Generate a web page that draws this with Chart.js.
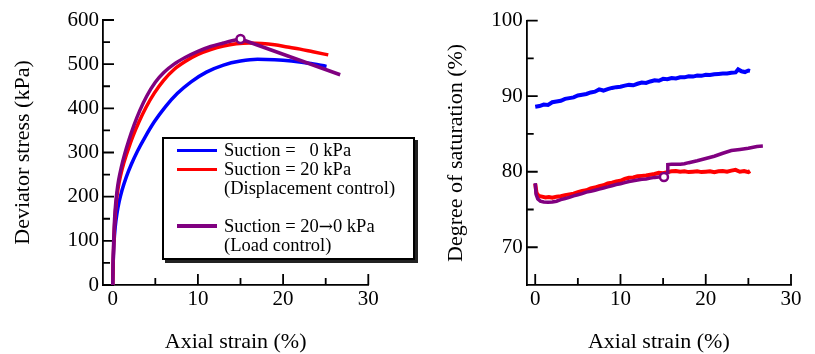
<!DOCTYPE html>
<html>
<head>
<meta charset="utf-8">
<title>Deviator stress and degree of saturation vs axial strain</title>
<script src="https://cdn.jsdelivr.net/npm/chart.js@4.4.0/dist/chart.umd.min.js"></script>
<style>
  html, body { margin: 0; padding: 0; background: #fff; }
  body { width: 815px; height: 354px; position: relative; overflow: hidden;
         font-family: 'Liberation Serif', 'Times New Roman', serif; }
  #stress-chart { position: absolute; left: 0; top: 0; }
  #sat-chart { position: absolute; left: 430px; top: 0; }
  .legend-box { position: absolute; left: 162px; top: 137px; width: 253px; height: 123px;
                box-sizing: border-box; border: 2px solid #000; background: #fff;
                box-shadow: 3px 3px 0 #222; }
  .legend-row { position: absolute; left: 60px; white-space: pre; font-size: 18.5px;
                line-height: 19px; color: #000; }
  .legend-row .arrow { font-family: 'DejaVu Serif', serif; font-size: 17px; }
  .legend-swatch { position: absolute; left: 12.7px; width: 40px; height: 3.5px; }
</style>
</head>
<body>
<canvas id="stress-chart" width="400" height="354"></canvas>
<canvas id="sat-chart" width="385" height="354"></canvas>
<div class="legend-box" id="legend"></div>

<script>
/* =============================================
   Triaxial test — stress / saturation vs strain
   ============================================= */

const BLUE = '#0000ff', RED = '#ff0000', PURPLE = '#800080';

/* ── Tick values ── */
const strainTicks = [0, 5, 10, 15, 20, 25, 30];
const stressTicks = [0, 50, 100, 150, 200, 250, 300, 350, 400, 450, 500, 550, 600];
const saturationTicks = [70, 75, 80, 85, 90, 95, 100];

/* ── Left: deviator stress (kPa) vs axial strain (%) ── */
const stressSuction0 = [[0,0],[0.05,45],[0.15,95],[0.3,132],[0.5,162],[0.75,188],[1.1,215],[1.6,245],
  [2.2,274],[2.9,303],[3.8,335],[4.9,370],[6.2,404],[7.6,434],[9.2,460],[11,482],[13,498],[15,507],
  [17,511],[19,510],[21,507],[23,502],[25.1,495]];
const stressSuction20 = [[0,0],[0.06,55],[0.14,105],[0.26,150],[0.42,188],[0.62,218],[0.9,246],[1.3,276],
  [1.8,306],[2.4,338],[3.1,370],[3.9,402],[4.9,435],[6,464],[7.2,488],[8.5,506],[10,522],[11.5,533],
  [13,541],[14.5,546],[16,548],[17.5,547],[19,544],[20.5,539],[22,534],[23.5,528],[25.3,521]];
const stressLoadCtrl = [[0,0],[0.05,55],[0.12,105],[0.22,150],[0.35,185],[0.5,212],[0.7,238],[1,266],
  [1.4,296],[1.9,328],[2.5,362],[3.2,396],[4,428],[5,459],[6,481],[7.2,500],[8.5,515],[10,529],
  [11.5,540],[13,548],[14,553],[15,557]];
const stressLoadCtrlAfter = [[15,557],[26.7,476]];
const stressSwitchPoint = [[15,557]];

/* ── Right: degree of saturation (%) vs axial strain (%) ── */
const satSuction0 = [[0,88.6],[0.5,88.7],[1,88.9],[1.5,88.85],[2,89.2],[2.5,89.3],[3,89.4],[3.5,89.65],
  [4,89.75],[4.5,89.85],[5,90.1],[5.5,90.2],[6,90.3],[6.5,90.5],[7,90.6],[7.5,90.9],[8,90.75],[8.5,90.95],
  [9,91.1],[9.5,91.2],[10,91.25],[10.5,91.4],[11,91.5],[11.5,91.45],[12,91.65],[12.5,91.8],[13,91.75],
  [13.5,91.95],[14,92.1],[14.5,92.05],[15,92.3],[15.5,92.25],[16,92.4],[16.5,92.35],[17,92.5],[17.5,92.5],
  [18,92.65],[18.5,92.6],[19,92.75],[19.5,92.7],[20,92.85],[20.5,92.8],[21,92.9],[21.5,92.95],[22,93],
  [22.5,93],[23,93.1],[23.5,93.15],[23.8,93.55],[24.2,93.3],[24.6,93.2],[25,93.4],[25.2,93.35]];
const satSuction20 = [[0,78.4],[0.15,77.2],[0.4,76.8],[0.8,76.7],[1.2,76.6],[1.6,76.65],[2,76.55],[2.5,76.7],
  [3,76.75],[3.5,76.9],[4,77],[4.5,77.1],[5,77.3],[5.5,77.45],[6,77.55],[6.5,77.8],[7,77.9],[7.5,78.1],
  [8,78.2],[8.5,78.45],[9,78.55],[9.5,78.7],[10,78.8],[10.5,79.05],[11,79.2],[11.5,79.25],[12,79.4],
  [12.5,79.45],[13,79.5],[13.5,79.6],[14,79.7],[14.5,79.85],[15,79.8],[15.5,79.95],[16,80.05],[16.5,80.1],
  [17,80],[17.5,80.05],[18,79.95],[18.5,80],[19,80.05],[19.5,79.95],[20,80],[20.5,80.05],[21,79.95],
  [21.5,80.05],[22,80.1],[22.5,80],[23,80.15],[23.5,80.25],[24,80],[24.5,80.1],[25,79.95],[25.2,80.1]];
const satLoadCtrl = [[0,78.5],[0.1,77],[0.3,76.4],[0.6,76.1],[1,76],[1.5,75.95],[2,76],[2.5,76.1],[3,76.3],
  [3.5,76.45],[4,76.6],[4.5,76.8],[5,76.95],[5.5,77.1],[6,77.3],[6.5,77.4],[7,77.55],[7.5,77.7],[8,77.85],
  [8.5,78],[9,78.15],[9.5,78.3],[10,78.4],[10.5,78.55],[11,78.7],[11.5,78.8],[12,78.9],[12.5,79],[13,79.05],
  [13.5,79.15],[14,79.25],[14.5,79.3],[15.1,79.3],[15.5,79.9],[15.55,80.95],[16,81],[17,81],[17.5,81.05],
  [18,81.2],[19,81.45],[20,81.75],[21,82.05],[22,82.45],[23,82.8],[24,82.95],[25,83.1],[26,83.35],[26.7,83.4]];
const satSwitchPoint = [[15.1,79.3]];

/* ── Legend ── */
const legendItems = [
  { color: BLUE,   text: 'Suction =   0 kPa',  y: 11.7 },
  { color: RED,    text: 'Suction = 20 kPa',   y: 30.3 },
  { color: null,   text: '(Displacement control)', y: 49 },
  { color: PURPLE, text: 'Suction = 20<span class="arrow">\u2192</span>0 kPa', y: 87 },
  { color: null,   text: '(Load control)',     y: 106 },
];

Chart.defaults.font.family = "'Liberation Serif', 'Times New Roman', serif";
Chart.defaults.color = '#000';

const toPoints = arr => arr.map(([x, y]) => ({ x, y }));

/* inward tick marks, drawn under the data */
const innerTicks = {
  id: 'innerTicks',
  beforeDatasetsDraw(chart, args, opts) {
    const { ctx } = chart;
    const xs = chart.scales.x, ys = chart.scales.y;
    ctx.save();
    ctx.strokeStyle = '#000';
    ctx.lineWidth = 1.8;
    ctx.beginPath();
    xs.ticks.forEach(t => {
      const px = xs.getPixelForValue(t.value);
      const len = t.value % opts.xMajor === 0 ? 11 : 7;
      ctx.moveTo(px, xs.top);
      ctx.lineTo(px, xs.top - len);
    });
    ys.ticks.forEach(t => {
      const py = ys.getPixelForValue(t.value);
      const len = t.value % opts.yMajor === 0 ? 11 : 7;
      ctx.moveTo(ys.right, py);
      ctx.lineTo(ys.right + len, py);
    });
    ctx.stroke();
    ctx.restore();
  }
};

function lineSet(data, color, width, order, smooth) {
  return {
    data: toPoints(data),
    borderColor: color,
    borderWidth: width,
    pointRadius: 0,
    fill: false,
    order,
    tension: 0,
    cubicInterpolationMode: smooth ? 'monotone' : 'default',
  };
}

function markerSet(data) {
  return {
    data: toPoints(data),
    showLine: false,
    pointRadius: 4,
    pointBorderWidth: 2.5,
    pointBorderColor: PURPLE,
    pointBackgroundColor: '#fff',
    order: 0,
  };
}

function xAxis(min) {
  return {
    type: 'linear', position: 'bottom', min, max: 30,
    afterBuildTicks: s => { s.ticks = strainTicks.map(v => ({ value: v })); },
    afterFit: s => { s.height = 69; },
    grid: { display: false, drawTicks: false },
    border: { display: true, color: '#000', width: 1.8 },
    ticks: { autoSkip: false, maxRotation: 0, padding: 2, font: { size: 21 },
             callback: v => (v % 10 === 0 ? v : '') },
    title: { display: true, text: 'Axial strain (%)', font: { size: 22, lineHeight: 1.1 },
             padding: { top: 0, bottom: 0 } },
  };
}

function yAxis(min, max, tickVals, major, width, title, titlePad) {
  return {
    type: 'linear', position: 'left', min, max,
    afterBuildTicks: s => { s.ticks = tickVals.map(v => ({ value: v })); },
    afterFit: s => { s.width = width; },
    grid: { display: false, drawTicks: false },
    border: { display: true, color: '#000', width: 1.8 },
    ticks: { autoSkip: false, padding: 4, font: { size: 21 },
             callback: v => (v % major === 0 ? v : '') },
    title: { display: true, text: title, font: { size: 22, lineHeight: 1.1 },
             padding: { top: titlePad, bottom: 0 } },
  };
}

/* ── Stress chart ── */
function renderStressChart() {
  new Chart(document.getElementById('stress-chart'), {
    type: 'line',
    data: {
      datasets: [
        lineSet(stressSuction0, BLUE, 3.5, 4, true),
        lineSet(stressSuction20, RED, 3.5, 3, true),
        lineSet(stressLoadCtrl, PURPLE, 3.5, 2, true),
        lineSet(stressLoadCtrlAfter, PURPLE, 3.5, 1, false),
        markerSet(stressSwitchPoint),
      ]
    },
    options: {
      responsive: false,
      animation: false,
      layout: { padding: { top: 20, right: 31.7, bottom: 0, left: 0 } },
      plugins: { legend: { display: false }, tooltip: { enabled: false },
                 innerTicks: { xMajor: 10, yMajor: 100 } },
      scales: {
        x: xAxis(-1.14),
        y: yAxis(0, 600, stressTicks, 100, 103, 'Deviator stress (kPa)', 11),
      }
    },
    plugins: [innerTicks]
  });
}

/* ── Saturation chart ── */
function renderSaturationChart() {
  new Chart(document.getElementById('sat-chart'), {
    type: 'line',
    data: {
      datasets: [
        lineSet(satSuction0, BLUE, 4, 3, false),
        lineSet(satSuction20, RED, 4, 2, false),
        lineSet(satLoadCtrl, PURPLE, 3.5, 1, false),
        markerSet(satSwitchPoint),
      ]
    },
    options: {
      responsive: false,
      animation: false,
      layout: { padding: { top: 20.7, right: 24, bottom: 0, left: 0 } },
      plugins: { legend: { display: false }, tooltip: { enabled: false },
                 innerTicks: { xMajor: 10, yMajor: 10 } },
      scales: {
        x: xAxis(-1.0),
        y: yAxis(65, 100, saturationTicks, 10, 96.7, 'Degree of saturation (%)', 14.6),
      }
    },
    plugins: [innerTicks]
  });
}

function renderLegend() {
  const box = document.getElementById('legend');
  box.innerHTML = legendItems.map(it => `
    ${it.color ? `<div class="legend-swatch" style="top:${it.y - 1.75}px;background:${it.color}"></div>` : ''}
    <div class="legend-row" style="top:${it.y - 9.5}px">${it.text}</div>
  `).join('');
}

renderStressChart();
renderSaturationChart();
renderLegend();
</script>
</body>
</html>
